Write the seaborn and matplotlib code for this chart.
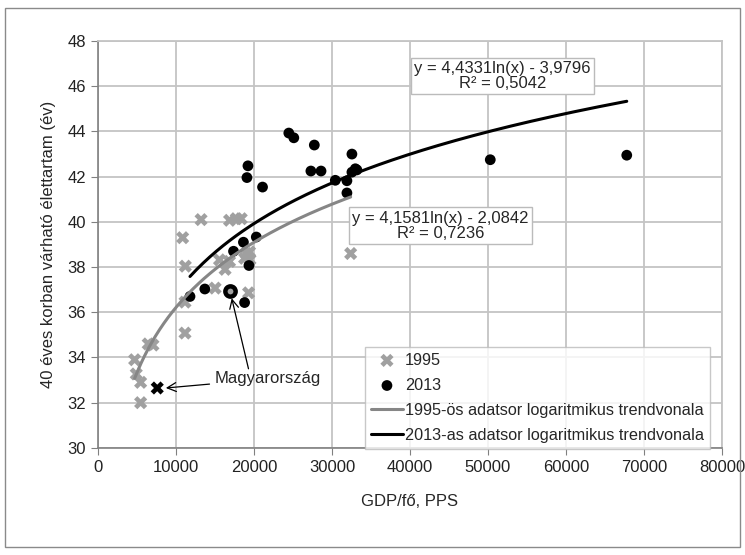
import numpy as np
import pandas as pd
import matplotlib.pyplot as plt
import seaborn as sns
from matplotlib.patches import Rectangle

# 1995 (gray X), Hungary shown separately
gdp_1995 = [4700, 4910, 5470, 5470, 6440, 7050, 11160, 11160, 15020, 19310,
            13220, 16870, 17730, 18370, 10860, 11200, 15580, 16870, 19010,
            19440, 18800, 19490, 16300, 32400]
le_1995 = [33.9, 33.27, 32.9, 32.0, 34.6, 34.55, 35.08, 36.45, 37.07, 36.86,
           40.1, 40.07, 40.14, 40.14, 39.3, 38.04, 38.32, 38.25, 38.6,
           38.67, 38.39, 38.33, 37.9, 38.6]

# 2013 (black dots)
gdp_2013 = [11800, 13700, 18800, 19360, 17380, 18650, 20300, 19230, 19100,
            21100, 24470, 25110, 27740, 27300, 28600, 30430, 31920, 31920,
            32560, 33000, 32560, 33200, 50300, 67800]
le_2013 = [36.7, 37.03, 36.43, 38.07, 38.7, 39.1, 39.33, 42.48, 41.96,
           41.54, 43.93, 43.72, 43.4, 42.25, 42.25, 41.84, 41.82, 41.28,
           43.0, 42.35, 42.2, 42.3, 42.75, 42.95]

hu_1995 = (7600, 32.65)
hu_2013 = (16950, 36.92)

# logarithmic trendline coefficients, as printed on the chart
trend_1995 = (4.1581, -2.0842)
trend_2013 = (4.4331, -3.9796)
eq_1995 = "y = 4,1581ln(x) - 2,0842\nR² = 0,7236"
eq_2013 = "y = 4,4331ln(x) - 3,9796\nR² = 0,5042"

sns.set_style("white")
plt.rcParams["font.family"] = ["Liberation Sans", "DejaVu Sans"]

fig = plt.figure(figsize=(7.45, 5.55), dpi=100)
ax = fig.add_axes([0.1315, 0.193, 0.8375, 0.733])

gray = "#a0a0a0"
fs = 12

df95 = pd.DataFrame({"gdp": gdp_1995, "le": le_1995})
df13 = pd.DataFrame({"gdp": gdp_2013, "le": le_2013})

sns.scatterplot(data=df95, x="gdp", y="le", marker="X", s=90, color=gray,
                edgecolor="none", ax=ax, label="1995", zorder=3)
sns.scatterplot(data=df13, x="gdp", y="le", marker="o", s=60, color="black",
                edgecolor="none", ax=ax, label="2013", zorder=4)

# trendlines between min and max of each series
x95 = np.linspace(min(gdp_1995), max(gdp_1995), 200)
x13 = np.linspace(min(gdp_2013), max(gdp_2013), 200)
sns.lineplot(x=x95, y=trend_1995[0] * np.log(x95) + trend_1995[1], ax=ax,
             color="#868686", lw=2.2, label="1995-ös adatsor logaritmikus trendvonala",
             zorder=5)
sns.lineplot(x=x13, y=trend_2013[0] * np.log(x13) + trend_2013[1], ax=ax,
             color="black", lw=2.2, label="2013-as adatsor logaritmikus trendvonala",
             zorder=5)

# Hungary
ax.scatter([hu_1995[0]], [hu_1995[1]], marker="X", s=90, color="black",
           edgecolor="none", zorder=6)
ax.scatter([hu_2013[0]], [hu_2013[1]], marker="o", s=55, facecolor=gray,
           edgecolor="black", linewidth=3.2, zorder=6)

ax.annotate("Magyarország", xy=(8700, 32.65), xytext=(14900, 33.05),
            fontsize=fs, va="center", ha="left",
            arrowprops=dict(arrowstyle="->", color="black", lw=0.9,
                            shrinkA=1, shrinkB=0, mutation_scale=16))
ax.annotate("", xy=(hu_2013[0] + 200, hu_2013[1] - 0.3), xytext=(19300, 33.5),
            arrowprops=dict(arrowstyle="->", color="black", lw=0.9,
                            shrinkA=0, shrinkB=0, mutation_scale=16))

box = dict(boxstyle="square,pad=0.2", facecolor="white", edgecolor="#bbbbbb", lw=1)
ax.text(51900, 46.45, eq_2013, ha="center", va="center", fontsize=fs,
        bbox=box, zorder=7, linespacing=1.0)
ax.text(43900, 39.83, eq_1995, ha="center", va="center", fontsize=fs,
        bbox=box, zorder=7, linespacing=1.0)

ax.set_xlim(0, 80000)
ax.set_ylim(30, 48)
ax.set_xticks(range(0, 80001, 10000))
ax.set_yticks(range(30, 49, 2))
ax.grid(True, color="#c4c4c4", lw=1.3)
ax.set_axisbelow(True)
for side in ["top", "right"]:
    ax.spines[side].set_color("#c4c4c4")
    ax.spines[side].set_linewidth(1.3)
for side in ["left", "bottom"]:
    ax.spines[side].set_color("#808080")
    ax.spines[side].set_linewidth(1.2)
ax.tick_params(axis="both", which="both", direction="out", length=5,
               color="#808080", labelsize=fs, left=True, bottom=True,
               labelcolor="#222222")
ax.set_xlabel("GDP/fő, PPS", fontsize=fs, labelpad=14)
ax.set_ylabel("40 éves korban várható élettartam (év)", fontsize=fs, labelpad=8)

leg = ax.legend(loc="upper left", bbox_to_anchor=(0.428, 0.248), fontsize=11.7,
                frameon=True, fancybox=False, edgecolor="#bbbbbb",
                borderpad=0.35, labelspacing=0.62, handlelength=2.0,
                handletextpad=0.1, borderaxespad=0)
leg.get_frame().set_linewidth(1)

fig.patches.append(Rectangle((0.007, 0.014), 0.986, 0.972, transform=fig.transFigure,
                             fill=False, edgecolor="#8a8a8a", lw=1))

fig.savefig("out.png", dpi=100)
